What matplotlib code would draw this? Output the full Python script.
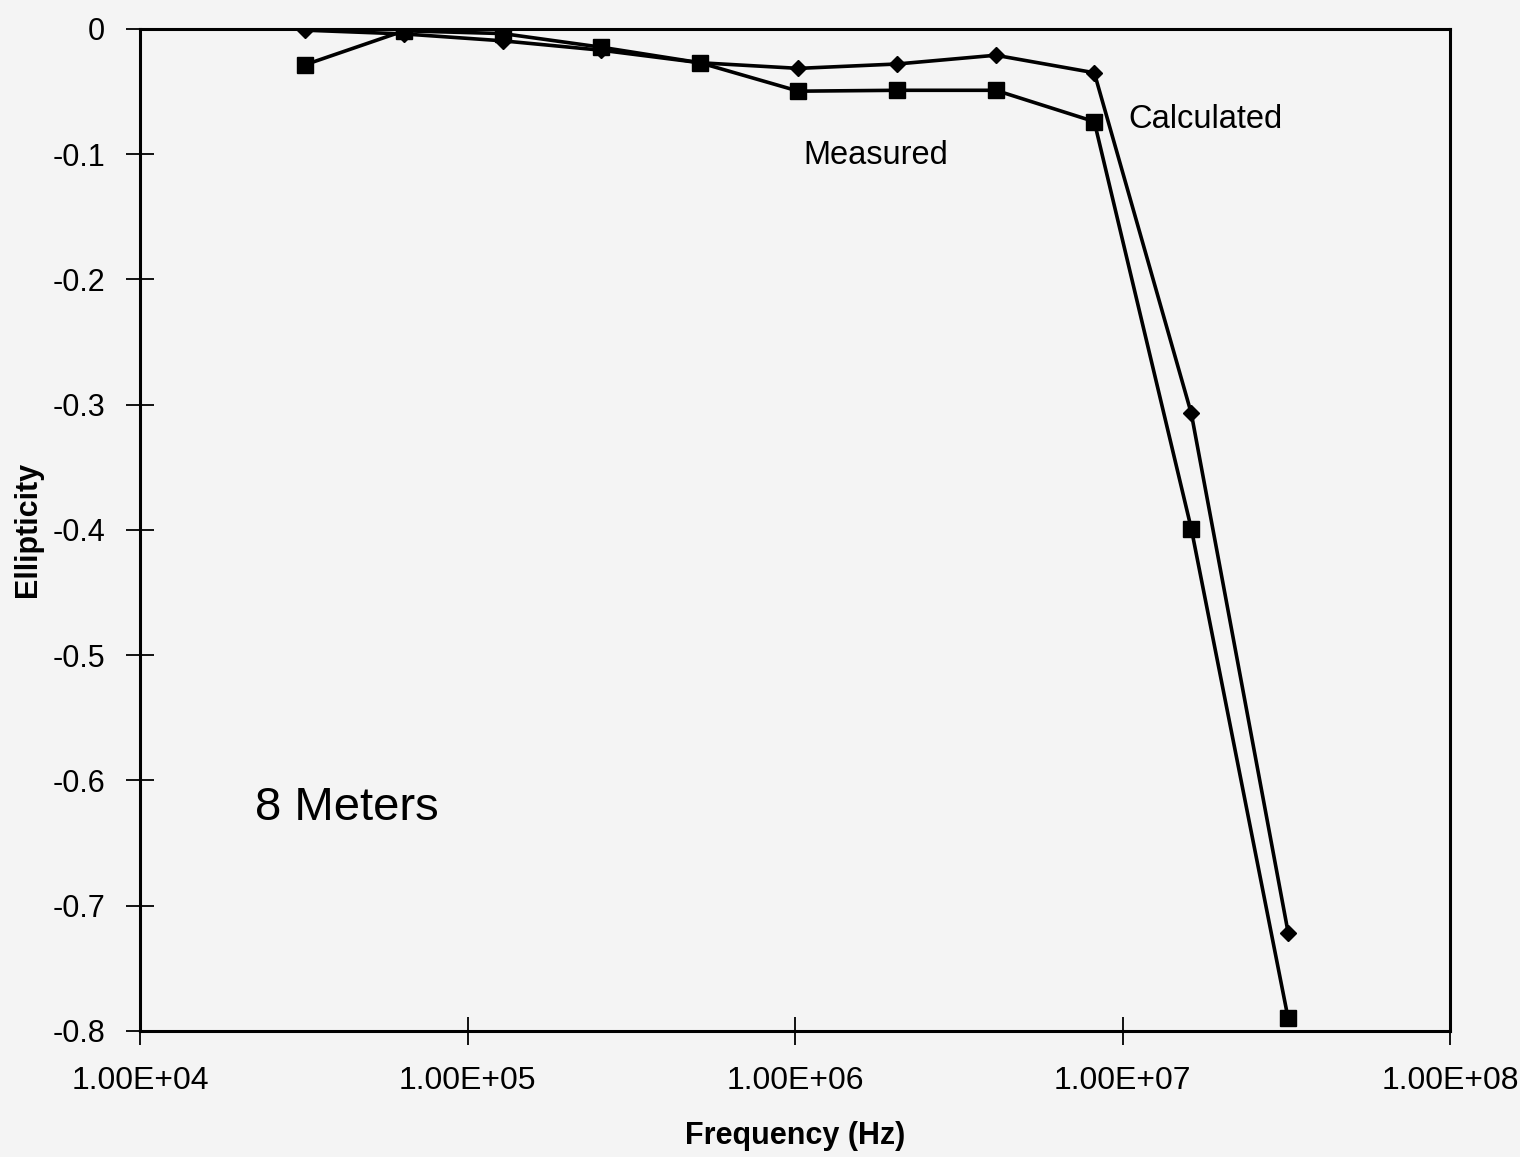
import matplotlib
matplotlib.use("Agg")
import matplotlib.pyplot as plt
from matplotlib.ticker import FixedLocator, FixedFormatter, NullLocator

plt.rcParams['font.family'] = ['Liberation Sans', 'DejaVu Sans']

freq = [32e3, 64e3, 128e3, 256e3, 512e3, 1.024e6, 2.048e6, 4.096e6,
        8.192e6, 16.2e6, 32.0e6]
calculated = [-0.001, -0.004, -0.0095, -0.017, -0.027, -0.0315, -0.028,
              -0.021, -0.035, -0.307, -0.7215]
measured = [-0.0285, -0.0015, -0.0037, -0.0146, -0.027, -0.0497, -0.049,
            -0.049, -0.074, -0.399, -0.790]

x_ticks = [1e4, 1e5, 1e6, 1e7, 1e8]
x_ticklabels = ["1.00E+04", "1.00E+05", "1.00E+06", "1.00E+07", "1.00E+08"]
y_ticks = [0, -0.1, -0.2, -0.3, -0.4, -0.5, -0.6, -0.7, -0.8]
y_ticklabels = ["0", "-0.1", "-0.2", "-0.3", "-0.4", "-0.5", "-0.6", "-0.7", "-0.8"]

bg = "#f4f4f4"
fig = plt.figure(figsize=(15.2, 11.57), dpi=100, facecolor=bg)
ax = fig.add_axes([0.0921, 0.109, 0.862, 0.866], facecolor=bg)

ax.plot(freq, calculated, color="black", lw=2.6, marker="D", markersize=8.5,
        zorder=3)
ax.plot(freq, measured, color="black", lw=2.6, marker="s", markersize=12,
        zorder=3)

ax.set_xscale("log")
ax.set_xlim(1e4, 1e8)
ax.set_ylim(-0.8, 0)
ax.xaxis.set_major_locator(FixedLocator(x_ticks))
ax.xaxis.set_major_formatter(FixedFormatter(x_ticklabels))
ax.xaxis.set_minor_locator(NullLocator())
ax.yaxis.set_major_locator(FixedLocator(y_ticks))
ax.yaxis.set_major_formatter(FixedFormatter(y_ticklabels))

ax.tick_params(axis="x", direction="inout", length=20, width=1.3,
               labelsize=23, pad=15)
ax.tick_params(axis="y", direction="inout", length=20, width=1.3,
               labelsize=22, pad=15)
for s in ax.spines.values():
    s.set_linewidth(2.2)
    s.set_color("black")

ax.set_xlabel("Frequency (Hz)", fontsize=22, fontweight="bold", labelpad=18)
ax.set_ylabel("Ellipticity", fontsize=22, fontweight="bold", labelpad=7)

ax.text(1.04e7, -0.072, "Calculated", fontsize=23.5, va="center", ha="left")
ax.text(1.057e6, -0.101, "Measured", fontsize=23.5, va="center", ha="left")
ax.text(2.24e4, -0.622, "8 Meters", fontsize=34, va="center", ha="left")

fig.savefig("out.png", dpi=100, facecolor=bg)
